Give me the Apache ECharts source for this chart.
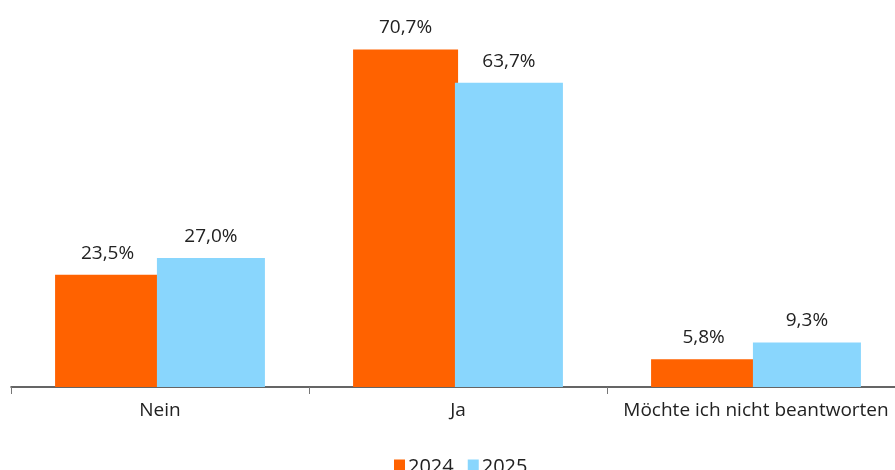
<!DOCTYPE html>
<html>
<head>
<meta charset="utf-8">
<script src="https://cdn.jsdelivr.net/npm/echarts@6/dist/echarts.min.js"></script>
<style>
html,body{margin:0;padding:0;background:#fff;}
#chart{width:895px;height:470px;}
</style>
</head>
<body>
<div id="chart"></div>
<script>
const categories = ['Nein', 'Ja', 'Möchte ich nicht beantworten'];
const seriesNames = ['2024', '2025'];
const values2024 = [23.5, 70.7, 5.8];
const values2025 = [27.0, 63.7, 9.3];
const colors = ['#FF6200', '#89D6FD'];

const chart = echarts.init(document.getElementById('chart'));
const fontFamily = '"Open Sans", "Noto Sans", sans-serif';
const fmt = p => p.value.toFixed(1).replace('.', ',') + '%';

chart.setOption({
  animation: false,
  textStyle: { fontFamily: fontFamily },
  grid: { left: 11, top: 5, width: 894, height: 382, containLabel: false, outerBoundsMode: 'none' },
  legend: {
    data: seriesNames,
    top: 452,
    left: 389,
    itemWidth: 11,
    itemHeight: 15,
    itemGap: 14,
    icon: 'rect',
    textStyle: { fontSize: 20, color: '#222', fontFamily: fontFamily, padding: [0, 0, 0, -2] }
  },
  xAxis: {
    type: 'category',
    data: categories,
    axisLine: { lineStyle: { color: '#333', width: 1.5 } },
    axisTick: { show: true, interval: 0, length: 7, lineStyle: { color: '#777' } },
    axisLabel: { interval: 0, hideOverlap: false, fontSize: 19, color: '#222', margin: 14, fontFamily: fontFamily }
  },
  yAxis: {
    type: 'value',
    min: 0,
    max: 80,
    show: false,
    splitLine: { show: false }
  },
  series: [
    {
      name: seriesNames[0],
      type: 'bar',
      data: values2024,
      barWidth: 105,
      barGap: '-3%',
      itemStyle: { color: colors[0] },
      label: { show: true, position: 'top', distance: 12, fontSize: 19, color: '#222', formatter: fmt, fontFamily: fontFamily }
    },
    {
      name: seriesNames[1],
      type: 'bar',
      data: values2025,
      barWidth: 108,
      itemStyle: { color: colors[1] },
      label: { show: true, position: 'top', distance: 12, fontSize: 19, color: '#222', formatter: fmt, fontFamily: fontFamily }
    }
  ]
});
</script>
</body>
</html>
